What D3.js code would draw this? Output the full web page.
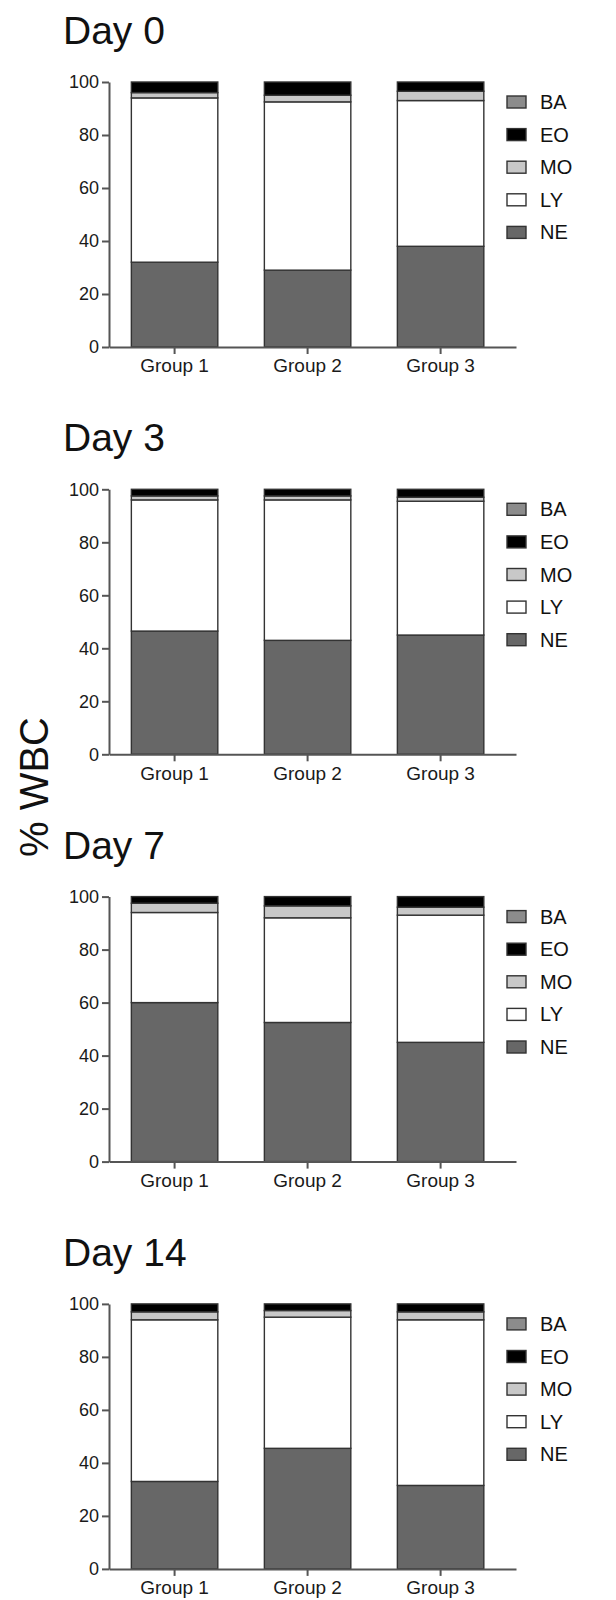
<!DOCTYPE html>
<html>
<head>
<meta charset="utf-8">
<script src="https://cdn.jsdelivr.net/npm/d3@7"></script>
<style>
  body { margin: 0; background: #fff; }
  svg { display: block; font-family: 'Liberation Sans', Arial, sans-serif; }
</style>
</head>
<body>
<svg></svg>
<script>
const days = ['Day 0', 'Day 3', 'Day 7', 'Day 14'];
const groups = ['Group 1', 'Group 2', 'Group 3'];
const cellTypes = ['NE', 'LY', 'MO', 'EO', 'BA'];
const yTicks = [0, 20, 40, 60, 80, 100];

// % of WBC, one row per day, one value per group
const ne = [[32, 29, 38], [46.5, 43, 45], [60, 52.5, 45], [33, 45.5, 31.5]];
const ly = [[62, 63.5, 55], [49.5, 53, 50.5], [34, 39.5, 48], [61, 49.5, 62.5]];
const mo = [[2, 2.5, 3.5], [1.5, 1.5, 1.5], [3.5, 4.5, 3], [3, 2.5, 3]];
const eo = [[4, 5, 3.5], [2.5, 2.5, 3], [2.5, 3.5, 4], [3, 2.5, 3]];
const ba = [[0, 0, 0], [0, 0, 0], [0, 0, 0], [0, 0, 0]];

let series = { NE: ne, LY: ly, MO: mo, EO: eo, BA: ba };
let fills = { NE: '#676767', LY: '#ffffff', MO: '#c8c8c8', EO: '#000000', BA: '#8c8c8c' };

let width = 616;
let height = 1600;
let axisLeft = 109;
let axisRight = 516;
let plotTop = 82;
let plotH = 265;
let panelStep = 407.3;

let svg = d3.select('svg').attr('width', width).attr('height', height);

let xScale = d3
  .scaleBand()
  .domain(groups)
  .range([axisLeft, axisRight])
  .paddingInner(0.35)
  .paddingOuter(0.205)
  .align(0.41);

let yScale = d3.scaleLinear().domain([0, 100]).range([plotH, 0]);

let styleAxis = (g, size) => {
  g.selectAll('path, line').attr('stroke', '#555').attr('stroke-width', 2);
  g.selectAll('text').attr('fill', '#1a1a1a').style('font-size', size);
};

days.forEach((day, d) => {
  let panel = svg
    .append('g')
    .attr('transform', `translate(0, ${plotTop + d * panelStep})`);

  panel
    .append('text')
    .attr('x', 63)
    .attr('y', -38)
    .attr('fill', '#111')
    .style('font-size', '39px')
    .text(day);

  let rows = groups.map((grp, i) => {
    let row = { group: grp };
    cellTypes.forEach((c) => {
      row[c] = series[c][d][i];
    });
    return row;
  });

  let stacked = d3.stack().keys(cellTypes)(rows);

  panel
    .selectAll('g.layer')
    .data(stacked)
    .enter()
    .append('g')
    .attr('class', 'layer')
    .attr('fill', (s) => fills[s.key])
    .selectAll('rect')
    .data((s) => s)
    .enter()
    .append('rect')
    .attr('x', (p) => xScale(p.data.group))
    .attr('width', xScale.bandwidth())
    .attr('y', (p) => yScale(p[1]))
    .attr('height', (p) => yScale(p[0]) - yScale(p[1]))
    .attr('stroke', '#333')
    .attr('stroke-width', 1.4);

  panel
    .append('g')
    .attr('transform', `translate(${axisLeft}, 0)`)
    .call(d3.axisLeft(yScale).tickValues(yTicks).tickSize(7).tickSizeOuter(0).tickPadding(3))
    .call((g) => styleAxis(g, '18px'));

  panel
    .append('g')
    .attr('transform', `translate(0, ${plotH})`)
    .call(d3.axisBottom(xScale).tickSize(7).tickSizeOuter(0).tickPadding(5))
    .call((g) => styleAxis(g, '19px'));

  // legend, top entry is the top of the stack
  let legend = panel
    .selectAll('g.legend')
    .data(cellTypes.slice().reverse())
    .enter()
    .append('g')
    .attr('class', 'legend')
    .attr('transform', (c, i) => `translate(507, ${20 + i * 32.6})`);

  legend
    .append('rect')
    .attr('x', 0)
    .attr('y', -6)
    .attr('width', 19)
    .attr('height', 12)
    .attr('fill', (c) => fills[c])
    .attr('stroke', '#333')
    .attr('stroke-width', 1.4);

  legend
    .append('text')
    .attr('x', 33)
    .attr('y', 0)
    .attr('dy', '0.35em')
    .attr('fill', '#111')
    .style('font-size', '20px')
    .text((c) => c);
});

svg
  .append('text')
  .attr('transform', 'translate(34, 787) rotate(-90)')
  .attr('text-anchor', 'middle')
  .attr('dy', '0.35em')
  .attr('fill', '#111')
  .style('font-size', '40px')
  .text('% WBC');
</script>
</body>
</html>
